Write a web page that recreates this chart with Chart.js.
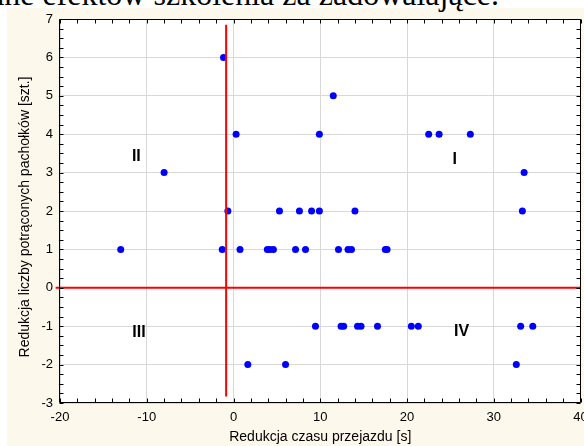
<!DOCTYPE html>
<html>
<head>
<meta charset="utf-8">
<script src="https://cdn.jsdelivr.net/npm/chart.js@4.4.0/dist/chart.umd.min.js"></script>
<style>
  html, body { margin:0; padding:0; background:#fff; }
  #wrap { position:relative; width:584px; height:446px; overflow:hidden; }
  #paper { position:absolute; left:7px; top:8px; width:577px; height:438px; background:#fdf8ec; }
  #caption { position:absolute; left:-10px; top:-22px; font:32px/32px "Liberation Serif", serif;
             color:#000; white-space:nowrap; }
  canvas { position:absolute; left:0; top:0; }
</style>
</head>
<body>
<div id="wrap">
  <div id="paper"></div>
  <div id="caption">ane efektów szkolenia za zadowalające.</div>
  <canvas id="chart" width="584" height="446"></canvas>
</div>
<script>
  // punkty · redukcja czasu [s] vs redukcja potrąconych pachołków [szt.]
  const timeReduction = [
    -1.15,
    11.5,
    0.3, 9.9, 22.5, 23.7, 27.3,
    -8.0, 33.5,
    -0.65, 5.3, 7.6, 9.0, 9.9, 14.0, 33.3,
    -13.0, -1.3, 0.75, 3.9, 4.2, 4.6, 7.15, 8.3, 12.1, 13.2, 13.6, 17.5, 17.7,
    9.45, 12.4, 12.7, 14.3, 14.7, 16.6, 20.5, 21.3, 33.1, 34.5,
    1.65, 6.0, 32.6,
  ];
  const conesReduction = [
    6,
    5,
    4, 4, 4, 4, 4,
    3, 3,
    2, 2, 2, 2, 2, 2, 2,
    1, 1, 1, 1, 1, 1, 1, 1, 1, 1, 1, 1, 1,
    -1, -1, -1, -1, -1, -1, -1, -1, -1, -1,
    -2, -2, -2,
  ];

  // linie podziału na ćwiartki
  const splitX = -0.85;
  const splitVerticalY = [-2.83, 6.85];
  const splitHorizontalX = [-20.5, 40];

  const quadrantLabels = ['II', 'I', 'III', 'IV'];
  const quadrantX = [-11.2, 25.5, -10.9, 26.3];
  const quadrantY = [3.42, 3.33, -1.17, -1.15];

  const xTicks = [-20, -10, 0, 10, 20, 30, 40];
  const yTicks = [-3, -2, -1, 0, 1, 2, 3, 4, 5, 6, 7];
  const xMinorStep = 2;
  const yMinorStep = 0.25;

  const xTitle = 'Redukcja czasu przejazdu [s]';
  const yTitle = 'Redukcja liczby potrąconych pachołków [szt.]';

  const SANS = '"Liberation Sans", Arial, sans-serif';

  const points = timeReduction.map((x, i) => ({ x, y: conesReduction[i] }));

  const framePlugin = {
    id: 'frame',
    beforeDraw(chart) {
      const { ctx, chartArea: a } = chart;
      ctx.save();
      ctx.fillStyle = '#ffffff';
      ctx.fillRect(a.left, a.top, a.right - a.left, a.bottom - a.top);
      ctx.restore();
    },
    afterDraw(chart) {
      const { ctx, chartArea: a, scales: { x: xs, y: ys } } = chart;
      ctx.save();
      ctx.strokeStyle = '#000';
      ctx.lineWidth = 1;
      ctx.beginPath();
      const L = Math.round(a.left) - 0.5, R = Math.round(a.right) - 0.5;
      const T = Math.round(a.top) + 0.5, B = Math.round(a.bottom) - 0.5;
      ctx.rect(L, T, R - L, B - T);
      // inward ticks
      for (let v = xTicks[0]; v <= xTicks[xTicks.length - 1] + 1e-6; v += xMinorStep) {
        const p = Math.round(xs.getPixelForValue(v)) + 0.5;
        ctx.moveTo(p, T); ctx.lineTo(p, T + 4);
        ctx.moveTo(p, B); ctx.lineTo(p, B - 4);
      }
      for (let v = yTicks[0]; v <= yTicks[yTicks.length - 1] + 1e-6; v += yMinorStep) {
        const p = Math.round(ys.getPixelForValue(v)) + 0.5;
        ctx.moveTo(L, p); ctx.lineTo(L + 4, p);
        ctx.moveTo(R, p); ctx.lineTo(R - 4, p);
      }
      ctx.stroke();

      // quadrant labels
      ctx.fillStyle = '#000';
      ctx.font = 'bold 16px ' + SANS;
      ctx.textAlign = 'center';
      ctx.textBaseline = 'middle';
      quadrantLabels.forEach((t, i) => {
        ctx.fillText(t, xs.getPixelForValue(quadrantX[i]), ys.getPixelForValue(quadrantY[i]));
      });

      // axis titles
      ctx.font = '14px ' + SANS;
      ctx.fillText(xTitle, (a.left + a.right) / 2, 437);
      ctx.translate(25, 217);
      ctx.rotate(-Math.PI / 2);
      ctx.fillText(yTitle, 0, 0);
      ctx.restore();
    },
  };

  new Chart(document.getElementById('chart'), {
    type: 'scatter',
    data: {
      datasets: [
        {
          data: [{ x: splitX, y: splitVerticalY[0] }, { x: splitX, y: splitVerticalY[1] }],
          showLine: true, borderColor: '#ff0000', borderWidth: 2, pointRadius: 0,
        },
        {
          data: [{ x: splitHorizontalX[0], y: 0 }, { x: splitHorizontalX[1], y: 0 }],
          showLine: true, borderColor: '#ff0000', borderWidth: 2, pointRadius: 0, clip: false,
        },
        {
          data: points,
          pointRadius: 3.5, pointHoverRadius: 3.5,
          pointBackgroundColor: '#0000ff', pointBorderWidth: 0, borderWidth: 0,
        },
      ],
    },
    options: {
      responsive: false,
      animation: false,
      devicePixelRatio: 1,
      layout: { padding: { left: 0, top: 19, right: 2, bottom: 0 } },
      plugins: { legend: { display: false }, tooltip: { enabled: false } },
      scales: {
        x: {
          type: 'linear', min: xTicks[0], max: xTicks[xTicks.length - 1],
          afterBuildTicks: s => { s.ticks = xTicks.map(v => ({ value: v })); },
          ticks: { color: '#000', font: { family: SANS, size: 13 }, padding: 7, autoSkip: false, maxRotation: 0 },
          grid: { color: '#d8d8d8', drawTicks: false },
          border: { display: false },
          afterFit: s => { s.height = 43; s.paddingLeft = 0; s.paddingRight = 0; },
        },
        y: {
          type: 'linear', min: yTicks[0], max: yTicks[yTicks.length - 1],
          afterBuildTicks: s => { s.ticks = yTicks.map(v => ({ value: v })); },
          ticks: { color: '#000', font: { family: SANS, size: 13 }, padding: 7, autoSkip: false },
          grid: { color: '#d8d8d8', drawTicks: false },
          border: { display: false },
          afterFit: s => { s.width = 60; s.paddingTop = 0; s.paddingBottom = 0; },
        },
      },
    },
    plugins: [framePlugin],
  });
</script>
</body>
</html>
